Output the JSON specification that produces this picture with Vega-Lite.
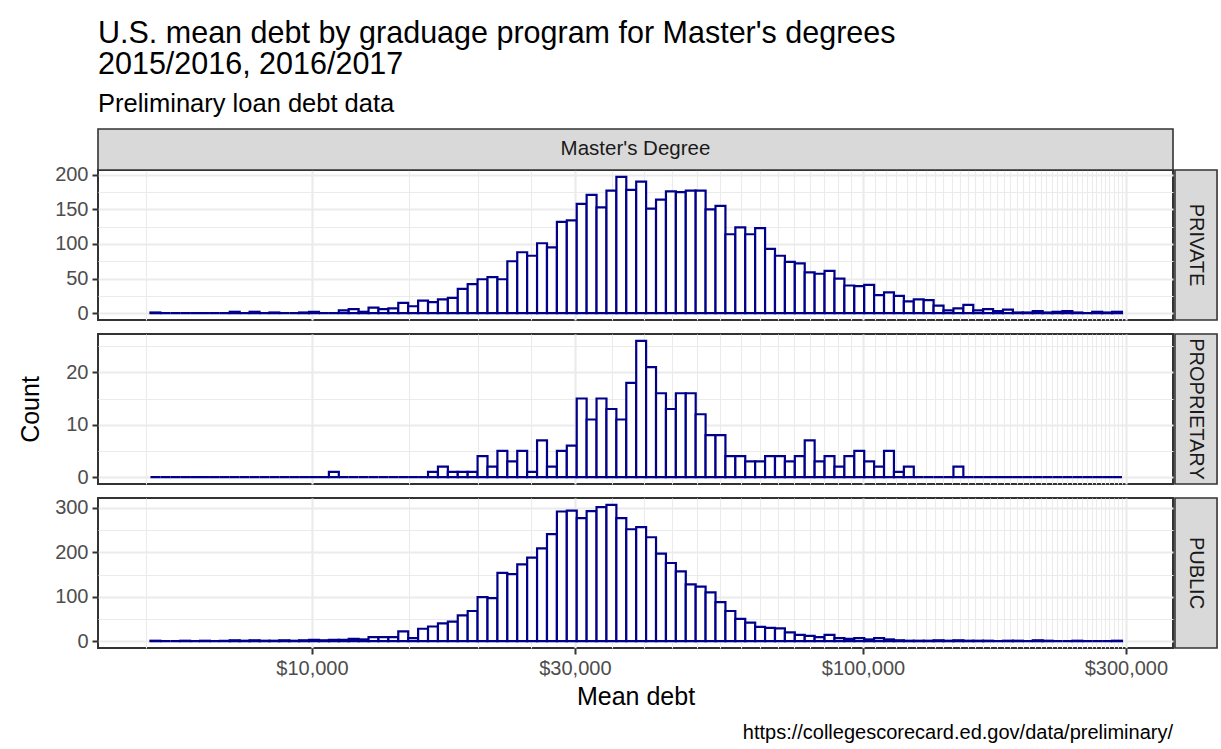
{
  "$schema": "https://vega.github.io/schema/vega-lite/v6.json",
  "background": "white",
  "padding": {"left": 17, "top": 18, "right": 4, "bottom": 10},
  "config": {
    "font": "Liberation Sans",
    "view": {"stroke": "#333333", "strokeWidth": 2},
    "axis": {"grid": true, "gridColor": "#ebebeb", "domain": false, "labelFontSize": 20, "labelColor": "#4d4d4d", "tickColor": "#333333", "tickSize": 6, "tickWidth": 2, "labelPadding": 4, "titleFontSize": 25, "titleFontWeight": "normal", "titleColor": "#000000"}
  },
  "datasets": {
    "bins": [
      {"lo":5092,"hi":5308,"a":1,"b":0,"c":1},
      {"lo":5308,"hi":5532,"a":0,"b":0,"c":0},
      {"lo":5532,"hi":5766,"a":0,"b":0,"c":0},
      {"lo":5766,"hi":6010,"a":0,"b":0,"c":1},
      {"lo":6010,"hi":6264,"a":0,"b":0,"c":0},
      {"lo":6264,"hi":6529,"a":0,"b":0,"c":1},
      {"lo":6529,"hi":6805,"a":0,"b":0,"c":0},
      {"lo":6805,"hi":7093,"a":0,"b":0,"c":1},
      {"lo":7093,"hi":7393,"a":2,"b":0,"c":2},
      {"lo":7393,"hi":7706,"a":0,"b":0,"c":1},
      {"lo":7706,"hi":8032,"a":2,"b":0,"c":2},
      {"lo":8032,"hi":8371,"a":0,"b":0,"c":1},
      {"lo":8371,"hi":8725,"a":1,"b":0,"c":1},
      {"lo":8725,"hi":9095,"a":0,"b":0,"c":2},
      {"lo":9095,"hi":9479,"a":0,"b":0,"c":1},
      {"lo":9479,"hi":9880,"a":1,"b":0,"c":2},
      {"lo":9880,"hi":10298,"a":2,"b":0,"c":3},
      {"lo":10298,"hi":10734,"a":0,"b":0,"c":2},
      {"lo":10734,"hi":11188,"a":0,"b":1,"c":3},
      {"lo":11188,"hi":11661,"a":4,"b":0,"c":3},
      {"lo":11661,"hi":12154,"a":6,"b":0,"c":5},
      {"lo":12154,"hi":12668,"a":2,"b":0,"c":4},
      {"lo":12668,"hi":13204,"a":8,"b":0,"c":9},
      {"lo":13204,"hi":13762,"a":6,"b":0,"c":9},
      {"lo":13762,"hi":14344,"a":7,"b":0,"c":9},
      {"lo":14344,"hi":14951,"a":15,"b":0,"c":22},
      {"lo":14951,"hi":15584,"a":10,"b":0,"c":7},
      {"lo":15584,"hi":16243,"a":18,"b":0,"c":28},
      {"lo":16243,"hi":16930,"a":16,"b":1,"c":33},
      {"lo":16930,"hi":17646,"a":20,"b":2,"c":40},
      {"lo":17646,"hi":18392,"a":22,"b":1,"c":44},
      {"lo":18392,"hi":19170,"a":35,"b":1,"c":58},
      {"lo":19170,"hi":19981,"a":42,"b":1,"c":68},
      {"lo":19981,"hi":20826,"a":49,"b":4,"c":99},
      {"lo":20826,"hi":21707,"a":52,"b":2,"c":97},
      {"lo":21707,"hi":22625,"a":49,"b":5,"c":154},
      {"lo":22625,"hi":23582,"a":75,"b":3,"c":151},
      {"lo":23582,"hi":24579,"a":88,"b":5,"c":173},
      {"lo":24579,"hi":25619,"a":83,"b":1,"c":188},
      {"lo":25619,"hi":26702,"a":101,"b":7,"c":209},
      {"lo":26702,"hi":27832,"a":95,"b":2,"c":241},
      {"lo":27832,"hi":29009,"a":132,"b":5,"c":292},
      {"lo":29009,"hi":30236,"a":134,"b":6,"c":294},
      {"lo":30236,"hi":31515,"a":158,"b":15,"c":277},
      {"lo":31515,"hi":32848,"a":171,"b":11,"c":293},
      {"lo":32848,"hi":34237,"a":153,"b":15,"c":302},
      {"lo":34237,"hi":35685,"a":177,"b":13,"c":307},
      {"lo":35685,"hi":37194,"a":197,"b":11,"c":277},
      {"lo":37194,"hi":38768,"a":178,"b":18,"c":252},
      {"lo":38768,"hi":40407,"a":190,"b":26,"c":257},
      {"lo":40407,"hi":42116,"a":151,"b":21,"c":234},
      {"lo":42116,"hi":43898,"a":164,"b":16,"c":197},
      {"lo":43898,"hi":45755,"a":176,"b":13,"c":176},
      {"lo":45755,"hi":47690,"a":175,"b":16,"c":157},
      {"lo":47690,"hi":49707,"a":177,"b":16,"c":128},
      {"lo":49707,"hi":51809,"a":177,"b":12,"c":123},
      {"lo":51809,"hi":54001,"a":150,"b":8,"c":110},
      {"lo":54001,"hi":56285,"a":155,"b":8,"c":88},
      {"lo":56285,"hi":58665,"a":114,"b":4,"c":68},
      {"lo":58665,"hi":61146,"a":124,"b":4,"c":50},
      {"lo":61146,"hi":63733,"a":114,"b":3,"c":42},
      {"lo":63733,"hi":66428,"a":123,"b":3,"c":32},
      {"lo":66428,"hi":69238,"a":93,"b":4,"c":30},
      {"lo":69238,"hi":72167,"a":83,"b":4,"c":29},
      {"lo":72167,"hi":75219,"a":74,"b":3,"c":20},
      {"lo":75219,"hi":78400,"a":72,"b":4,"c":14},
      {"lo":78400,"hi":81716,"a":59,"b":7,"c":12},
      {"lo":81716,"hi":85173,"a":57,"b":3,"c":9},
      {"lo":85173,"hi":88775,"a":61,"b":4,"c":14},
      {"lo":88775,"hi":92530,"a":50,"b":2,"c":7},
      {"lo":92530,"hi":96444,"a":40,"b":4,"c":5},
      {"lo":96444,"hi":100523,"a":39,"b":5,"c":7},
      {"lo":100523,"hi":104775,"a":41,"b":3,"c":4},
      {"lo":104775,"hi":109206,"a":26,"b":2,"c":7},
      {"lo":109206,"hi":113825,"a":30,"b":5,"c":4},
      {"lo":113825,"hi":118639,"a":25,"b":1,"c":2},
      {"lo":118639,"hi":123657,"a":17,"b":2,"c":1},
      {"lo":123657,"hi":128888,"a":20,"b":0,"c":1},
      {"lo":128888,"hi":134339,"a":19,"b":0,"c":1},
      {"lo":134339,"hi":140021,"a":11,"b":0,"c":2},
      {"lo":140021,"hi":145943,"a":4,"b":0,"c":1},
      {"lo":145943,"hi":152116,"a":7,"b":2,"c":2},
      {"lo":152116,"hi":158550,"a":12,"b":0,"c":1},
      {"lo":158550,"hi":165256,"a":4,"b":0,"c":1},
      {"lo":165256,"hi":172246,"a":6,"b":0,"c":1},
      {"lo":172246,"hi":179531,"a":3,"b":0,"c":0},
      {"lo":179531,"hi":187124,"a":5,"b":0,"c":1},
      {"lo":187124,"hi":195039,"a":1,"b":0,"c":1},
      {"lo":195039,"hi":203288,"a":1,"b":0,"c":0},
      {"lo":203288,"hi":211887,"a":3,"b":0,"c":2},
      {"lo":211887,"hi":220849,"a":1,"b":0,"c":1},
      {"lo":220849,"hi":230190,"a":2,"b":0,"c":0},
      {"lo":230190,"hi":239926,"a":3,"b":0,"c":0},
      {"lo":239926,"hi":250074,"a":1,"b":0,"c":1},
      {"lo":250074,"hi":260651,"a":0,"b":0,"c":0},
      {"lo":260651,"hi":271675,"a":2,"b":0,"c":0},
      {"lo":271675,"hi":283166,"a":1,"b":0,"c":0},
      {"lo":283166,"hi":295143,"a":2,"b":0,"c":1}
    ]
  },
  "vconcat": [
    {
      "width": 1075, "height": 150,
      "title": {"text": ["U.S. mean debt by graduage program for Master's degrees", "2015/2016, 2016/2017"], "subtitle": "Preliminary loan debt data", "anchor": "start", "frame": "group", "fontSize": 30.5, "fontWeight": "normal", "lineHeight": 31, "color": "#000000", "subtitleFontSize": 25.5, "subtitleColor": "#000000", "subtitlePadding": 11, "offset": 11},
      "resolve": {"axis": {"x": "independent", "y": "independent"}},
      "layer": [
        {
          "data": {"name": "bins"},
          "mark": {"type": "rect", "fill": "white", "stroke": "#00008b", "strokeWidth": 2.2},
          "encoding": {
            "x": {"field": "lo", "type": "quantitative", "scale": {"type": "log", "domain": [4090, 365300], "nice": false},
              "axis": {"orient": "bottom", "values": [5000,10000,15000,20000,25000,30000,35000,40000,45000,50000,55000,60000,65000,70000,75000,80000,85000,90000,95000,100000,105000,110000,115000,120000,125000,130000,135000,140000,145000,150000,155000,160000,165000,170000,175000,180000,185000,190000,195000,200000,205000,210000,215000,220000,225000,230000,235000,240000,245000,250000,255000,260000,265000,270000,275000,280000,285000,290000,295000,300000],
                "gridWidth": {"condition": {"test": "indexof([10000,30000,100000,300000], datum.value) >= 0", "value": 2.2}, "value": 1.1},
                "labels": false, "ticks": false, "title": null}},
            "x2": {"field": "hi"},
            "y": {"field": "a", "type": "quantitative", "scale": {"domain": [-9.85, 206.85], "nice": false, "zero": false},
              "axis": {"orient": "left", "values": [0,25,50,75,100,125,150,175,200],
                "gridWidth": {"condition": {"test": "datum.value % 50 === 0", "value": 2.2}, "value": 1.1},
                "tickOpacity": {"condition": {"test": "datum.value % 50 === 0", "value": 1}, "value": 0},
                "labelExpr": "datum.value % 50 === 0 ? datum.label : ''",
                "minExtent": 45, "maxExtent": 45, "title": null}},
            "y2": {"datum": 0}
          }
        },
        {
          "data": {"values": [{"label": "PRIVATE"}]},
          "mark": {"type": "rect", "fill": "#d9d9d9", "stroke": "#333333", "strokeWidth": 1.6},
          "encoding": {
            "x": {"datum": 368300, "type": "quantitative", "scale": {"type": "log", "domain": [4090, 365300], "nice": false}, "axis": null},
            "x2": {"datum": 439100},
            "y": {"datum": -9.85, "type": "quantitative", "scale": {"domain": [-9.85, 206.85], "nice": false, "zero": false}, "axis": null},
            "y2": {"datum": 206.85}
          }
        },
        {
          "data": {"values": [{"label": "PRIVATE"}]},
          "mark": {"type": "text", "angle": 90, "fontSize": 20, "color": "#1a1a1a"},
          "encoding": {
            "x": {"datum": 402200, "type": "quantitative", "scale": {"type": "log", "domain": [4090, 365300], "nice": false}, "axis": null},
            "y": {"datum": 98.5, "type": "quantitative", "scale": {"domain": [-9.85, 206.85], "nice": false, "zero": false}, "axis": null},
            "text": {"field": "label"}
          }
        },
        {
          "data": {"values": [{"label": "Master's Degree"}]},
          "mark": {"type": "rect", "fill": "#d9d9d9", "stroke": "#333333", "strokeWidth": 1.6},
          "encoding": {
            "x": {"datum": 4090, "type": "quantitative", "scale": {"type": "log", "domain": [4090, 365300], "nice": false}, "axis": null},
            "x2": {"datum": 365300},
            "y": {"datum": 206.85, "type": "quantitative", "scale": {"domain": [-9.85, 206.85], "nice": false, "zero": false}, "axis": null},
            "y2": {"datum": 266.08}
          }
        },
        {
          "data": {"values": [{"label": "Master's Degree"}]},
          "mark": {"type": "text", "fontSize": 20.5, "color": "#1a1a1a"},
          "encoding": {
            "x": {"datum": 38650, "type": "quantitative", "scale": {"type": "log", "domain": [4090, 365300], "nice": false}, "axis": null},
            "y": {"datum": 236.47, "type": "quantitative", "scale": {"domain": [-9.85, 206.85], "nice": false, "zero": false}, "axis": null},
            "text": {"field": "label"}
          }
        }
      ]
    },
    {
      "width": 1075, "height": 150,
      "resolve": {"axis": {"x": "independent", "y": "independent"}},
      "layer": [
        {
          "data": {"name": "bins"},
          "mark": {"type": "rect", "fill": "white", "stroke": "#00008b", "strokeWidth": 2.2},
          "encoding": {
            "x": {"field": "lo", "type": "quantitative", "scale": {"type": "log", "domain": [4090, 365300], "nice": false},
              "axis": {"orient": "bottom", "values": [5000,10000,15000,20000,25000,30000,35000,40000,45000,50000,55000,60000,65000,70000,75000,80000,85000,90000,95000,100000,105000,110000,115000,120000,125000,130000,135000,140000,145000,150000,155000,160000,165000,170000,175000,180000,185000,190000,195000,200000,205000,210000,215000,220000,225000,230000,235000,240000,245000,250000,255000,260000,265000,270000,275000,280000,285000,290000,295000,300000],
                "gridWidth": {"condition": {"test": "indexof([10000,30000,100000,300000], datum.value) >= 0", "value": 2.2}, "value": 1.1},
                "labels": false, "ticks": false, "title": null}},
            "x2": {"field": "hi"},
            "y": {"field": "b", "type": "quantitative", "scale": {"domain": [-1.3, 27.3], "nice": false, "zero": false},
              "axis": {"orient": "left", "values": [0,5,10,15,20,25],
                "gridWidth": {"condition": {"test": "datum.value % 10 === 0", "value": 2.2}, "value": 1.1},
                "tickOpacity": {"condition": {"test": "datum.value % 10 === 0", "value": 1}, "value": 0},
                "labelExpr": "datum.value % 10 === 0 ? datum.label : ''",
                "minExtent": 45, "maxExtent": 45, "title": "Count", "titlePadding": 10}},
            "y2": {"datum": 0}
          }
        },
        {
          "data": {"values": [{"label": "PROPRIETARY"}]},
          "mark": {"type": "rect", "fill": "#d9d9d9", "stroke": "#333333", "strokeWidth": 1.6},
          "encoding": {
            "x": {"datum": 368300, "type": "quantitative", "scale": {"type": "log", "domain": [4090, 365300], "nice": false}, "axis": null},
            "x2": {"datum": 439100},
            "y": {"datum": -1.3, "type": "quantitative", "scale": {"domain": [-1.3, 27.3], "nice": false, "zero": false}, "axis": null},
            "y2": {"datum": 27.3}
          }
        },
        {
          "data": {"values": [{"label": "PROPRIETARY"}]},
          "mark": {"type": "text", "angle": 90, "fontSize": 20, "color": "#1a1a1a"},
          "encoding": {
            "x": {"datum": 402200, "type": "quantitative", "scale": {"type": "log", "domain": [4090, 365300], "nice": false}, "axis": null},
            "y": {"datum": 13, "type": "quantitative", "scale": {"domain": [-1.3, 27.3], "nice": false, "zero": false}, "axis": null},
            "text": {"field": "label"}
          }
        }
      ]
    },
    {
      "width": 1075, "height": 150,
      "title": {"text": "https://collegescorecard.ed.gov/data/preliminary/", "orient": "bottom", "anchor": "end", "frame": "group", "fontSize": 20, "fontWeight": "normal", "color": "#000000", "offset": 14},
      "resolve": {"axis": {"x": "independent", "y": "independent"}},
      "layer": [
        {
          "data": {"name": "bins"},
          "mark": {"type": "rect", "fill": "white", "stroke": "#00008b", "strokeWidth": 2.2},
          "encoding": {
            "x": {"field": "lo", "type": "quantitative", "scale": {"type": "log", "domain": [4090, 365300], "nice": false},
              "axis": {"orient": "bottom", "values": [5000,10000,15000,20000,25000,30000,35000,40000,45000,50000,55000,60000,65000,70000,75000,80000,85000,90000,95000,100000,105000,110000,115000,120000,125000,130000,135000,140000,145000,150000,155000,160000,165000,170000,175000,180000,185000,190000,195000,200000,205000,210000,215000,220000,225000,230000,235000,240000,245000,250000,255000,260000,265000,270000,275000,280000,285000,290000,295000,300000],
                "gridWidth": {"condition": {"test": "indexof([10000,30000,100000,300000], datum.value) >= 0", "value": 2.2}, "value": 1.1},
                "tickOpacity": {"condition": {"test": "indexof([10000,30000,100000,300000], datum.value) >= 0", "value": 1}, "value": 0},
                "labelExpr": "indexof([10000,30000,100000,300000], datum.value) >= 0 ? datum.label : ''",
                "format": "$,.0f", "labelOverlap": false, "labelFlush": false, "labelBound": false,
                "title": "Mean debt", "titlePadding": 6}},
            "x2": {"field": "hi"},
            "y": {"field": "c", "type": "quantitative", "scale": {"domain": [-15.35, 322.35], "nice": false, "zero": false},
              "axis": {"orient": "left", "values": [0,50,100,150,200,250,300],
                "gridWidth": {"condition": {"test": "datum.value % 100 === 0", "value": 2.2}, "value": 1.1},
                "tickOpacity": {"condition": {"test": "datum.value % 100 === 0", "value": 1}, "value": 0},
                "labelExpr": "datum.value % 100 === 0 ? datum.label : ''",
                "minExtent": 45, "maxExtent": 45, "title": null}},
            "y2": {"datum": 0}
          }
        },
        {
          "data": {"values": [{"label": "PUBLIC"}]},
          "mark": {"type": "rect", "fill": "#d9d9d9", "stroke": "#333333", "strokeWidth": 1.6},
          "encoding": {
            "x": {"datum": 368300, "type": "quantitative", "scale": {"type": "log", "domain": [4090, 365300], "nice": false}, "axis": null},
            "x2": {"datum": 439100},
            "y": {"datum": -15.35, "type": "quantitative", "scale": {"domain": [-15.35, 322.35], "nice": false, "zero": false}, "axis": null},
            "y2": {"datum": 322.35}
          }
        },
        {
          "data": {"values": [{"label": "PUBLIC"}]},
          "mark": {"type": "text", "angle": 90, "fontSize": 20, "color": "#1a1a1a"},
          "encoding": {
            "x": {"datum": 402200, "type": "quantitative", "scale": {"type": "log", "domain": [4090, 365300], "nice": false}, "axis": null},
            "y": {"datum": 153.5, "type": "quantitative", "scale": {"domain": [-15.35, 322.35], "nice": false, "zero": false}, "axis": null},
            "text": {"field": "label"}
          }
        }
      ]
    }
  ],
  "spacing": 14,
  "bounds": "flush"
}
